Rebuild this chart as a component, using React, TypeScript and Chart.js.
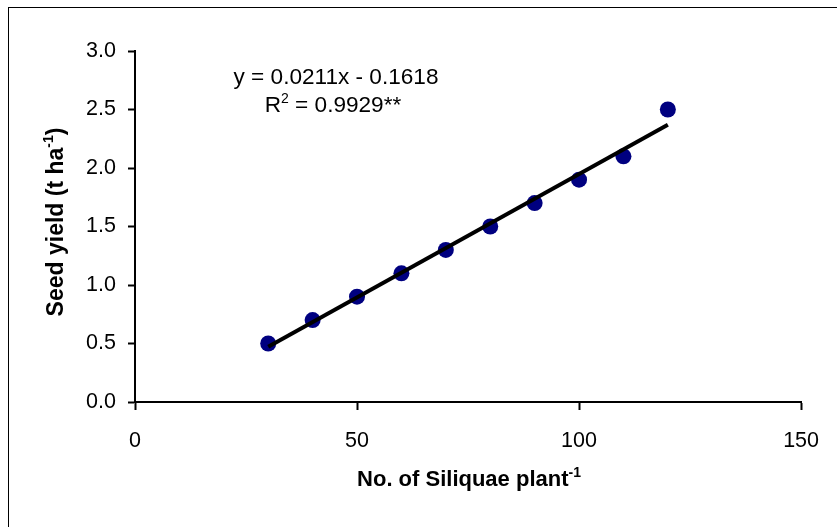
import React, { useEffect, useRef } from "react";
import { Chart, registerables } from "chart.js";

Chart.register(...registerables);

const siliquae = [30, 40, 50, 60, 70, 80, 90, 100, 110, 120];
const seedYield = [0.5, 0.7, 0.9, 1.1, 1.3, 1.5, 1.7, 1.9, 2.1, 2.5];
const slope = 0.0211;
const intercept = -0.1618;
const trendX = [30, 120];
const xTicks = [0, 50, 100, 150];
const yTicks = [0, 0.5, 1.0, 1.5, 2.0, 2.5, 3.0];

type Part = { t: string; sup?: boolean };

function drawRich(
  ctx: CanvasRenderingContext2D,
  parts: Part[],
  cx: number,
  y: number,
  size: number,
  bold: boolean
) {
  const fam = "'Liberation Sans', Arial, sans-serif";
  const w = (s: number) => `${bold ? "bold " : ""}${s}px ${fam}`;
  const supSize = Math.round(size * 0.62);
  let total = 0;
  const widths = parts.map((p) => {
    ctx.font = p.sup ? w(supSize) : w(size);
    const m = ctx.measureText(p.t).width;
    total += m;
    return m;
  });
  let x = cx - total / 2;
  ctx.textAlign = "left";
  ctx.textBaseline = "alphabetic";
  ctx.fillStyle = "#000";
  parts.forEach((p, i) => {
    ctx.font = p.sup ? w(supSize) : w(size);
    ctx.fillText(p.t, x, p.sup ? y - size * 0.42 : y);
    x += widths[i];
  });
}

const textPlugin = {
  id: "textPlugin",
  afterDraw(chart: any) {
    const ctx: CanvasRenderingContext2D = chart.ctx;
    ctx.save();
    // outer frame
    ctx.strokeStyle = "#000";
    ctx.lineWidth = 1;
    ctx.strokeRect(8.5, 7.5, 900, 600);
    // equation
    drawRich(ctx, [{ t: "y = 0.0211x - 0.1618" }], 336, 84, 22.6, false);
    drawRich(ctx, [{ t: "R" }, { t: "2", sup: true }, { t: " = 0.9929**" }], 333, 112, 22.6, false);
    // x title
    drawRich(ctx, [{ t: "No. of Siliquae plant" }, { t: "-1", sup: true }], 469, 486, 22, true);
    // y title
    ctx.translate(63, 222);
    ctx.rotate(-Math.PI / 2);
    drawRich(ctx, [{ t: "Seed yield (t ha" }, { t: "-1", sup: true }, { t: ")" }], 0, 0, 23, true);
    ctx.restore();
  },
};

export default function App() {
  const ref = useRef<HTMLCanvasElement>(null);
  useEffect(() => {
    if (!ref.current) return;
    const chart = new Chart(ref.current, {
      type: "scatter",
      data: {
        datasets: [
          {
            type: "line",
            label: "Trend",
            data: trendX.map((x) => ({ x, y: slope * x + intercept })),
            borderColor: "#000",
            borderWidth: 4,
            pointRadius: 0,
            fill: false,
            order: 0,
          } as any,
          {
            label: "Seed yield",
            data: siliquae.map((x, i) => ({ x, y: seedYield[i] })),
            backgroundColor: "#000080",
            borderColor: "#000080",
            borderWidth: 0,
            pointRadius: 8,
            order: 1,
          },
        ],
      },
      options: {
        responsive: false,
        animation: false,
        layout: { padding: { top: 51, right: 33, left: 0, bottom: 0 } },
        plugins: { legend: { display: false }, tooltip: { enabled: false } },
        scales: {
          x: {
            type: "linear",
            min: 0,
            max: 150,
            afterBuildTicks: (s: any) => {
              s.ticks = xTicks.map((v) => ({ value: v }));
            },
            afterFit: (s: any) => {
              s.height = 125;
            },
            grid: { drawOnChartArea: false, drawTicks: true, tickLength: 8, color: "#000", tickWidth: 2 },
            border: { color: "#000", width: 2 },
            ticks: {
              color: "#000",
              font: { family: "'Liberation Sans', Arial, sans-serif", size: 21.5 },
              padding: 18,
              maxRotation: 0,
            },
          },
          y: {
            type: "linear",
            min: 0,
            max: 3,
            afterBuildTicks: (s: any) => {
              s.ticks = yTicks.map((v) => ({ value: v }));
            },
            afterFit: (s: any) => {
              s.width = 135;
            },
            grid: { drawOnChartArea: false, drawTicks: true, tickLength: 7, color: "#000", tickWidth: 2 },
            border: { color: "#000", width: 2 },
            ticks: {
              color: "#000",
              font: { family: "'Liberation Sans', Arial, sans-serif", size: 21.5 },
              padding: 12,
              callback: (v: any) => Number(v).toFixed(1),
            },
          },
        },
      },
      plugins: [textPlugin],
    });
    return () => chart.destroy();
  }, []);
  return (
    <div style={{ position: "absolute", left: 0, top: 0, width: 837, height: 527, background: "#fff" }}>
      <canvas ref={ref} width={837} height={527} style={{ width: 837, height: 527 }} />
    </div>
  );
}
